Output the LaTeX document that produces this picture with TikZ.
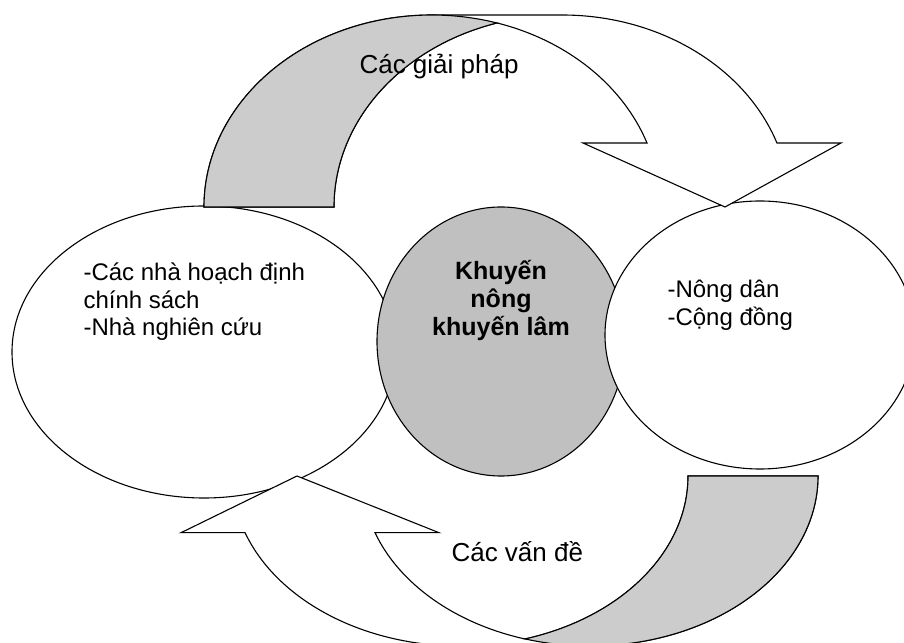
\documentclass[tikz,border=0pt]{standalone}
\usepackage{fontspec}
\setmainfont{Liberation Sans}
\usetikzlibrary{shapes.geometric}
\definecolor{backgray}{RGB}{204,204,204}
\definecolor{centergray}{RGB}{192,192,192}
\begin{document}
\begin{tikzpicture}[x=1pt,y=1pt, line width=1.1pt, line join=miter,
  arrowbody/.style={draw=black, fill=white},
  arrowback/.style={draw=black, fill=backgray},
  bubble/.style={ellipse, draw=black, fill=white, inner sep=0pt, outer sep=0pt},
  core/.style={ellipse, draw=black, fill=centergray, inner sep=0pt, outer sep=0pt},
  lbl/.style={inner sep=0pt, anchor=base west, font=\fontsize{24}{28}\selectfont},
  corelbl/.style={inner sep=0pt, anchor=base, font=\fontsize{25}{29}\selectfont\bfseries},
  arrlbl/.style={inner sep=0pt, anchor=base west, font=\fontsize{26}{30}\selectfont}]
\useasboundingbox (0,0) rectangle (904,642);
\clip (0,0) rectangle (904,642);

% ellipses
\node[bubble, minimum width=384pt, minimum height=292pt] (policy) at (204,290) {};
\node[core, minimum width=248pt, minimum height=269pt] (ext) at (501,300.5) {};
\node[bubble, minimum width=310pt, minimum height=268pt] (farm) at (760,307) {};

% top curved arrow (Các giải pháp)
\draw[arrowbody] (204,435) arc[start angle=180,end angle=90,x radius=228,y radius=192]
  -- (562,627) arc[start angle=90,end angle=19.47,x radius=228,y radius=192]
  -- (841,499) -- (725,435) -- (583,499) -- (647,499)
  arc[start angle=19.47,end angle=73.44,x radius=228,y radius=192]
  arc[start angle=106.56,end angle=180,x radius=228,y radius=192] -- cycle;
\draw[arrowback] (204,435) arc[start angle=180,end angle=73.44,x radius=228,y radius=192]
  arc[start angle=106.56,end angle=180,x radius=228,y radius=192] -- cycle;

% bottom curved arrow (Các vấn đề)
\draw[arrowbody] (818,166) arc[start angle=0,end angle=-90,x radius=228,y radius=170]
  -- (460,-4) arc[start angle=270,end angle=199.47,x radius=228,y radius=170]
  -- (181,109.3) -- (297,166) -- (439,109.3) -- (375,109.3)
  arc[start angle=199.47,end angle=253.44,x radius=228,y radius=170]
  arc[start angle=286.56,end angle=360,x radius=228,y radius=170] -- cycle;
\draw[arrowback] (818,166) arc[start angle=0,end angle=-106.56,x radius=228,y radius=170]
  arc[start angle=-73.44,end angle=0,x radius=228,y radius=170] -- cycle;

% texts
\node[lbl] (p1) at (83,361) {-Các nhà hoạch định};
\node[lbl] (p2) at (83,333.5) {chính sách};
\node[lbl] (p3) at (83,306) {-Nhà nghiên cứu};
\node[lbl] (f1) at (667,344) {-Nông dân};
\node[lbl] (f2) at (667,316) {-Cộng đồng};
\node[corelbl] (c1) at (501,362) {Khuyến};
\node[corelbl] (c2) at (501,334) {nông};
\node[corelbl] (c3) at (501,306) {khuyến lâm};
\node[arrlbl] (sol) at (359,568) {Các giải pháp};
\node[arrlbl] (prob) at (451,80) {Các vấn đề};
\end{tikzpicture}
\end{document}
